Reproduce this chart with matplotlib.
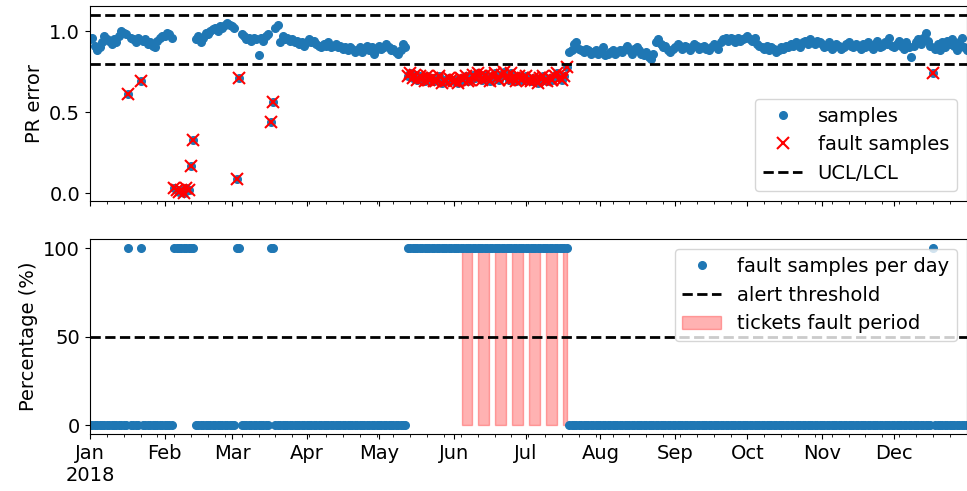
import numpy as np
import pandas as pd
import matplotlib
matplotlib.use('Agg')
import matplotlib.pyplot as plt
import matplotlib.dates as mdates

plt.rcParams['font.size'] = 14

# daily PR error values for 2018, one list per month
pr_jan = [0.95, 0.96, 0.91, 0.88, 0.90, 0.93, 0.97, 0.95, 0.94, 0.92,
          0.95, 0.93, 0.97, 1.00, 0.99, 0.98, 0.61, 0.96, 0.95, 0.93,
          0.96, 0.69, 0.94, 0.95, 0.92, 0.93, 0.91, 0.90, 0.94, 0.96, 0.97]
pr_feb = [0.97, 0.99, 0.98, 0.96, 0.03, 0.02, 0.01, 0.02, 0.00, 0.03,
          0.02, 0.17, 0.33, 0.95, 0.97, 0.93, 0.96, 0.99, 0.98, 1.00,
          1.01, 1.02, 1.00, 1.03, 1.02, 1.04, 1.05, 1.04]
pr_mar = [1.03, 1.02, 0.09, 0.71, 0.98, 0.97, 0.95, 0.96, 0.94, 0.96,
          0.95, 0.85, 0.96, 0.94, 0.97, 0.98, 0.44, 0.56, 1.02, 1.04,
          0.93, 0.97, 0.95, 0.96, 0.94, 0.95, 0.93, 0.94, 0.92, 0.93, 0.91]
pr_apr = [0.93, 0.95, 0.93, 0.94, 0.92, 0.91, 0.90, 0.92, 0.91, 0.93,
          0.90, 0.91, 0.92, 0.90, 0.91, 0.89, 0.90, 0.88, 0.90, 0.89,
          0.87, 0.88, 0.90, 0.87, 0.89, 0.91, 0.88, 0.90, 0.86, 0.89]
pr_may = [0.91, 0.89, 0.90, 0.92, 0.90, 0.88, 0.89, 0.87, 0.86, 0.88,
          0.92, 0.90, 0.72, 0.74, 0.71, 0.73, 0.70, 0.72, 0.71, 0.69,
          0.72, 0.70, 0.71, 0.69, 0.70, 0.72, 0.68, 0.70, 0.69, 0.71, 0.70]
pr_jun = [0.69, 0.70, 0.68, 0.71, 0.70, 0.72, 0.69, 0.70, 0.73, 0.71,
          0.74, 0.72, 0.70, 0.73, 0.71, 0.69, 0.72, 0.74, 0.71, 0.70,
          0.73, 0.75, 0.72, 0.70, 0.74, 0.71, 0.69, 0.72, 0.70, 0.71]
pr_jul = [0.72, 0.70, 0.69, 0.71, 0.70, 0.68, 0.71, 0.72, 0.70, 0.69,
          0.71, 0.70, 0.72, 0.74, 0.71, 0.70, 0.72, 0.78, 0.87, 0.88,
          0.92, 0.93, 0.89, 0.88, 0.87, 0.89, 0.88, 0.86, 0.87, 0.88, 0.86]
pr_aug = [0.87, 0.90, 0.85, 0.86, 0.87, 0.88, 0.86, 0.87, 0.88, 0.87,
          0.89, 0.91, 0.88, 0.86, 0.89, 0.90, 0.88, 0.86, 0.85, 0.87,
          0.84, 0.83, 0.86, 0.93, 0.95, 0.92, 0.90, 0.91, 0.88, 0.87, 0.89]
pr_sep = [0.90, 0.92, 0.91, 0.89, 0.91, 0.90, 0.88, 0.90, 0.92, 0.91,
          0.89, 0.90, 0.91, 0.89, 0.88, 0.90, 0.92, 0.91, 0.89, 0.93,
          0.95, 0.96, 0.94, 0.96, 0.95, 0.93, 0.96, 0.94, 0.95, 0.96]
pr_oct = [0.97, 0.95, 0.94, 0.96, 0.92, 0.91, 0.90, 0.89, 0.91, 0.88,
          0.90, 0.89, 0.87, 0.88, 0.90, 0.89, 0.91, 0.90, 0.92, 0.91,
          0.93, 0.92, 0.90, 0.93, 0.94, 0.92, 0.95, 0.93, 0.92, 0.94, 0.93]
pr_nov = [0.92, 0.90, 0.91, 0.93, 0.89, 0.90, 0.92, 0.91, 0.89, 0.90,
          0.92, 0.93, 0.91, 0.90, 0.92, 0.91, 0.89, 0.92, 0.90, 0.93,
          0.91, 0.89, 0.92, 0.94, 0.90, 0.91, 0.93, 0.92, 0.96, 0.91]
pr_dec = [0.90, 0.92, 0.94, 0.91, 0.89, 0.93, 0.90, 0.84, 0.91, 0.93,
          0.95, 0.92, 0.96, 0.99, 0.94, 0.91, 0.74, 0.89, 0.92, 0.88,
          0.93, 0.90, 0.94, 0.92, 0.95, 0.91, 0.88, 0.93, 0.96, 0.90, 0.88]

ucl = 1.10
lcl = 0.795
alert_threshold = 50

# ticket fault periods (start, end)
tickets = [('2018-06-04 08:00', '2018-06-08 18:00'),
           ('2018-06-11 08:00', '2018-06-15 18:00'),
           ('2018-06-18 08:00', '2018-06-22 18:00'),
           ('2018-06-25 08:00', '2018-06-29 18:00'),
           ('2018-07-02 08:00', '2018-07-06 18:00'),
           ('2018-07-09 08:00', '2018-07-13 18:00'),
           ('2018-07-16 08:00', '2018-07-17 23:00')]

pr = np.array(pr_jan + pr_feb + pr_mar + pr_apr + pr_may + pr_jun +
              pr_jul + pr_aug + pr_sep + pr_oct + pr_nov + pr_dec)
dates = pd.date_range('2018-01-01', '2018-12-31', freq='D')

fault = (pr < lcl) | (pr > ucl)
fault_pct = np.where(fault, 100, 0)

fig, (ax1, ax2) = plt.subplots(2, 1, sharex=True, figsize=(9.67, 4.91), dpi=100)
fig.subplots_adjust(left=0.093, right=0.9995, top=0.988, bottom=0.116, hspace=0.2)

# top: control chart
ax1.plot(dates, pr, 'o', color='C0', markersize=5.5, label='samples')
ax1.plot(dates[fault], pr[fault], 'x', color='red', markersize=9, mew=1.5,
         label='fault samples')
ax1.axhline(ucl, color='k', ls='--', lw=2, label='UCL/LCL')
ax1.axhline(lcl, color='k', ls='--', lw=2)
ax1.set_ylim(-0.045, 1.155)
ax1.set_yticks([0.0, 0.5, 1.0])
ax1.set_ylabel('PR error')
ax1.legend(loc='lower right')

# bottom: fault percentage per day
first = True
for start, end in tickets:
    ax2.fill_between([pd.Timestamp(start), pd.Timestamp(end)], 0, 100,
                     color='red', alpha=0.3,
                     label='tickets fault period' if first else None)
    first = False
ax2.plot(dates, fault_pct, 'o', color='C0', markersize=5.5,
         label='fault samples per day')
ax2.axhline(alert_threshold, color='k', ls='--', lw=2, label='alert threshold')
ax2.set_ylim(-5, 105)
ax2.set_yticks([0, 50, 100])
ax2.set_ylabel('Percentage (%)')
h, l = ax2.get_legend_handles_labels()
order = [l.index('fault samples per day'), l.index('alert threshold'),
         l.index('tickets fault period')]
ax2.legend([h[i] for i in order], [l[i] for i in order], loc='upper right')

ax2.set_xlim(dates[0], dates[-1])
ax2.xaxis.set_major_locator(mdates.MonthLocator())
ax2.xaxis.set_major_formatter(
    plt.FuncFormatter(lambda x, pos: mdates.num2date(x).strftime('%b\n%Y')
                      if mdates.num2date(x).month == 1
                      else mdates.num2date(x).strftime('%b')))
ax2.xaxis.set_minor_locator(mdates.WeekdayLocator(byweekday=mdates.MO))

fig.savefig('out.png', dpi=100)
